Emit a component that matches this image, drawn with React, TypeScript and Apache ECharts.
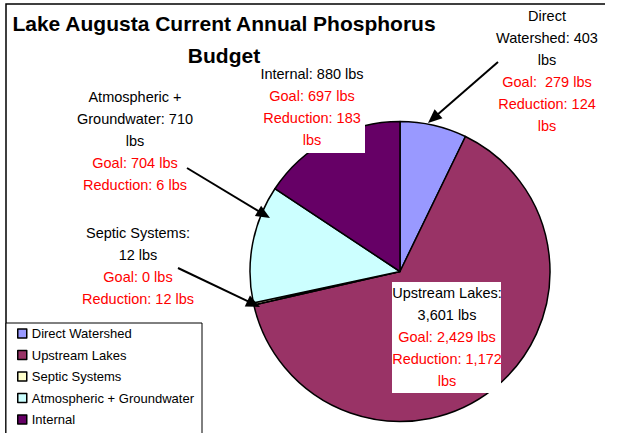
import React, { useEffect, useRef } from "react";
import * as echarts from "echarts";

// ---- data ----
const categories = [
  "Direct Watershed",
  "Upstream Lakes",
  "Septic Systems",
  "Atmospheric + Groundwater",
  "Internal",
];
const currentLbs = [403, 3601, 12, 710, 880];
const goalLbs = [279, 2429, 0, 704, 697];
const reductionLbs = [124, 1172, 12, 6, 183];
const titleLines = ["Lake Augusta Current Annual Phosphorus", "Budget"];

// ---- styles / layout ----
const sliceColors = ["#9999FF", "#993366", "#FFFFCC", "#CCFFFF", "#660066"];
const FONT = '"Liberation Sans", Arial, sans-serif';
const LABEL_FS = 14.5;
const LINE_H = 22;

type Layout = {
  cx: number;
  top: number;
  wrap: number;
  goalSpace?: string;
  box?: [number, number, number, number];
  arrow?: [number, number, number, number];
};

const labelLayout: Layout[] = [
  { cx: 547, top: 5, wrap: 110, goalSpace: "  ", arrow: [498, 62, 428, 123] },
  { cx: 447, top: 282, wrap: 112, box: [392, 282, 109, 111] },
  { cx: 138, top: 222, wrap: 121.5, arrow: [178, 268, 260, 307] },
  { cx: 135, top: 86, wrap: 120, arrow: [187, 168, 270, 218] },
  { cx: 312, top: 63, wrap: 110, box: [255, 62, 110, 91] },
];

const fmt = (v: number) => v.toLocaleString("en-US");

function makeWrapper() {
  const ctx = document.createElement("canvas").getContext("2d")!;
  ctx.font = `${LABEL_FS}px "Liberation Sans"`;
  return (text: string, maxW: number) => {
    const words = text.split(" ");
    const lines: string[] = [];
    let cur: string | null = null;
    for (const w of words) {
      if (cur === null) {
        cur = w;
        continue;
      }
      const cand = cur + " " + w;
      if (w !== "" && ctx.measureText(cand).width > maxW) {
        lines.push(cur);
        cur = w;
      } else cur = cand;
    }
    if (cur !== null) lines.push(cur);
    return lines;
  };
}

function arrow(x1: number, y1: number, x2: number, y2: number) {
  const len = Math.hypot(x2 - x1, y2 - y1);
  const ux = (x2 - x1) / len;
  const uy = (y2 - y1) / len;
  const hl = 14;
  const hw = 6;
  const bx = x2 - ux * hl;
  const by = y2 - uy * hl;
  return [
    {
      type: "line",
      z: 20,
      silent: true,
      shape: { x1, y1, x2: bx + ux * 2, y2: by + uy * 2 },
      style: { stroke: "#000", lineWidth: 2 },
    },
    {
      type: "polygon",
      z: 20,
      silent: true,
      shape: {
        points: [
          [x2, y2],
          [bx - uy * hw, by + ux * hw],
          [bx + uy * hw, by - ux * hw],
        ],
      },
      style: { fill: "#000" },
    },
  ];
}

export default function App() {
  const ref = useRef<HTMLDivElement>(null);
  useEffect(() => {
    if (!ref.current) return;
    const chart = echarts.init(ref.current, null, { renderer: "svg" });
    const wrap = makeWrapper();

    const graphics: any[] = [];
    // frame
    graphics.push({
      type: "polyline",
      z: 1,
      silent: true,
      shape: { points: [[6, 440], [6, 4], [605, 4]] },
      style: { stroke: "#000", lineWidth: 1.5, fill: "none" },
    });
    // legend box
    graphics.push({
      type: "rect",
      z: 1,
      silent: true,
      shape: { x: 6, y: 323, width: 196, height: 130 },
      style: { stroke: "#000", lineWidth: 1, fill: "#fff" },
    });
    // title
    titleLines.forEach((t, i) => {
      graphics.push({
        type: "text",
        z: 30,
        silent: true,
        x: 224,
        y: 23 + i * 32,
        style: {
          text: t,
          fill: "#000",
          font: `bold 21px ${FONT}`,
          align: "center",
          verticalAlign: "middle",
        },
      });
    });
    // labels
    categories.forEach((name, i) => {
      const L = labelLayout[i];
      const blackLines = wrap(`${name}: ${fmt(currentLbs[i])} lbs`, L.wrap);
      const redLines = [
        ...wrap(`Goal:${L.goalSpace ?? " "}${fmt(goalLbs[i])} lbs`, L.wrap),
        ...wrap(`Reduction: ${fmt(reductionLbs[i])} lbs`, L.wrap),
      ];
      if (L.box) {
        const [bx, by, bw, bh] = L.box;
        graphics.push({
          type: "rect",
          z: 10,
          silent: true,
          shape: { x: bx, y: by, width: bw, height: bh },
          style: { fill: "#fff" },
        });
      }
      graphics.push({
        type: "text",
        z: 15,
        silent: true,
        x: L.cx,
        y: L.top,
        style: {
          text: blackLines.join("\n"),
          fill: "#000",
          font: `${LABEL_FS}px ${FONT}`,
          lineHeight: LINE_H,
          align: "center",
          verticalAlign: "top",
        },
      });
      graphics.push({
        type: "text",
        z: 15,
        silent: true,
        x: L.cx,
        y: L.top + blackLines.length * LINE_H,
        style: {
          text: redLines.join("\n"),
          fill: "#FF0000",
          font: `${LABEL_FS}px ${FONT}`,
          lineHeight: LINE_H,
          align: "center",
          verticalAlign: "top",
        },
      });
      if (L.arrow) graphics.push(...arrow(...L.arrow));
    });

    chart.setOption({
      animation: false,
      backgroundColor: "#fff",
      legend: {
        orient: "vertical",
        left: 17,
        top: 327,
        height: 200,
        padding: 0,
        itemWidth: 9,
        itemHeight: 9,
        itemGap: 8.5,
        icon: "rect",
        selectedMode: false,
        data: categories,
        z: 5,
        itemStyle: { borderColor: "#000", borderWidth: 1.5 },
        textStyle: { fontSize: 13, color: "#000", fontFamily: FONT },
      },
      graphic: { elements: graphics },
      series: [
        {
          type: "pie",
          center: [400, 271.5],
          radius: 150,
          startAngle: 90,
          clockwise: true,
          silent: true,
          z: 2,
          label: { show: false },
          labelLine: { show: false },
          emphasis: { disabled: true },
          itemStyle: { borderColor: "#000", borderWidth: 1.5 },
          data: categories.map((n, i) => ({
            name: n,
            value: currentLbs[i],
            itemStyle: { color: sliceColors[i] },
          })),
        },
      ],
    });
    return () => chart.dispose();
  }, []);
  return (
    <div
      ref={ref}
      style={{ position: "fixed", left: 0, top: 0, width: 619, height: 433 }}
    />
  );
}
